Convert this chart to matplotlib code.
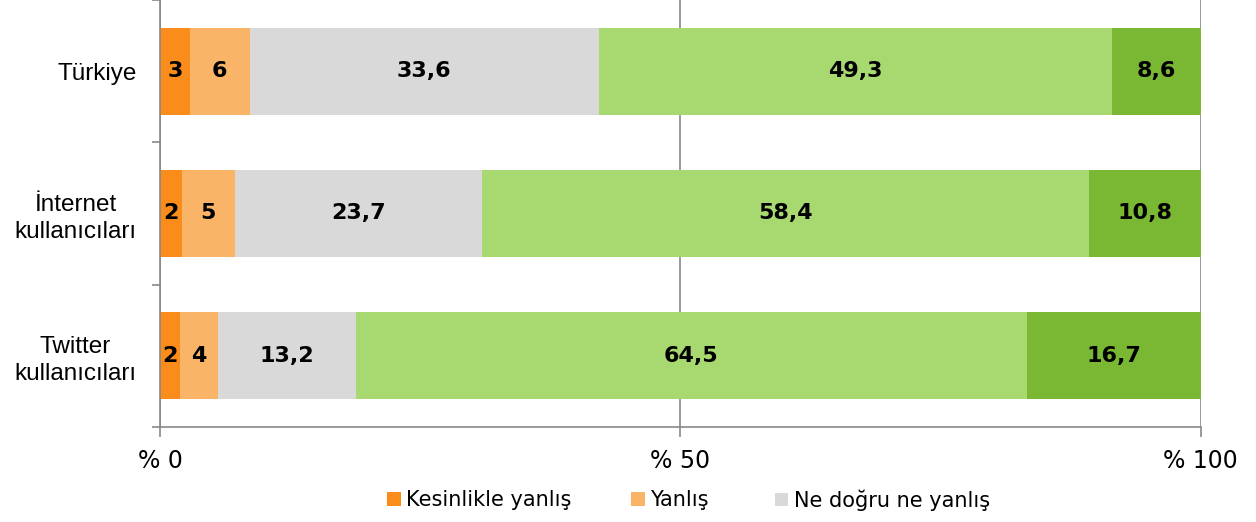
import matplotlib.pyplot as plt
import numpy as np

categories = ["Türkiye", "İnternet\nkullanıcıları", "Twitter\nkullanıcıları"]
series_names = ["Kesinlikle yanlış", "Yanlış", "Ne doğru ne yanlış", "Doğru", "Kesinlikle doğru"]

# segment widths per category and the printed labels
kesinlikle_yanlis = [2.9, 2.1, 1.9]
yanlis = [5.7, 5.1, 3.7]
ne_dogru = [33.6, 23.7, 13.2]
dogru = [49.3, 58.4, 64.5]
kesinlikle_dogru = [8.5, 10.7, 16.7]

labels = [
    ["3", "2", "2"],
    ["6", "5", "4"],
    ["33,6", "23,7", "13,2"],
    ["49,3", "58,4", "64,5"],
    ["8,6", "10,8", "16,7"],
]

x_ticks = [0, 50, 100]
x_ticklabels = ["% 0", "% 50", "% 100"]

colors = ["#F98C1B", "#FAB468", "#D9D9D9", "#A8D970", "#7AB833"]

fig = plt.figure(figsize=(12.56, 5.22), dpi=100)
ax = fig.add_axes([0.1274, 0.182, 0.8286, 0.818])

series = [kesinlikle_yanlis, yanlis, ne_dogru, dogru, kesinlikle_dogru]
y = np.arange(len(categories))
left = np.zeros(len(categories))
handles = []
for vals, name, col, labs in zip(series, series_names, colors, labels):
    vals = np.array(vals)
    bars = ax.barh(y, vals, left=left, height=0.61, color=col, label=name, zorder=2)
    handles.append(bars)
    for yi, (l, v, t) in enumerate(zip(left, vals, labs)):
        ax.text(l + v / 2, yi, t, ha='center', va='center', fontsize=16,
                fontweight='heavy', color='black', zorder=3)
    left = left + vals

ax.set_xlim(0, 100)
ax.set_ylim(len(categories) - 0.5, -0.5)

ax.set_xticks(x_ticks)
ax.set_xticklabels(x_ticklabels, fontsize=17)
ax.tick_params(axis='x', length=7, color='#888888', width=1.2, pad=9)
ax.xaxis.grid(True, color='#888888', linewidth=1.2, zorder=0)

ax.set_yticks(y)
ax.set_yticklabels(categories, fontsize=17.5, family='Liberation Sans', ha='right',
                   multialignment='center', linespacing=1.3)
ax.tick_params(axis='y', which='major', length=0, pad=17)
ax.set_yticks(np.arange(len(categories) + 1) - 0.5, minor=True)
ax.tick_params(axis='y', which='minor', length=6, color='#888888', width=1.2)

for s in ['top', 'right']:
    ax.spines[s].set_visible(False)
for s in ['left', 'bottom']:
    ax.spines[s].set_color('#888888')
    ax.spines[s].set_linewidth(1.2)

# legend shows only the first three entries, each placed on its own
legend_x = [0.3081, 0.5024, 0.617]
for h, name, lx in zip(handles[:3], series_names[:3], legend_x):
    fig.legend([h], [name], loc='center left', bbox_to_anchor=(lx, 0.042),
               frameon=False, fontsize=15, handlelength=0.65, handleheight=0.65,
               handletextpad=0.25, borderpad=0, borderaxespad=0)

fig.savefig("out.png", dpi=100)
